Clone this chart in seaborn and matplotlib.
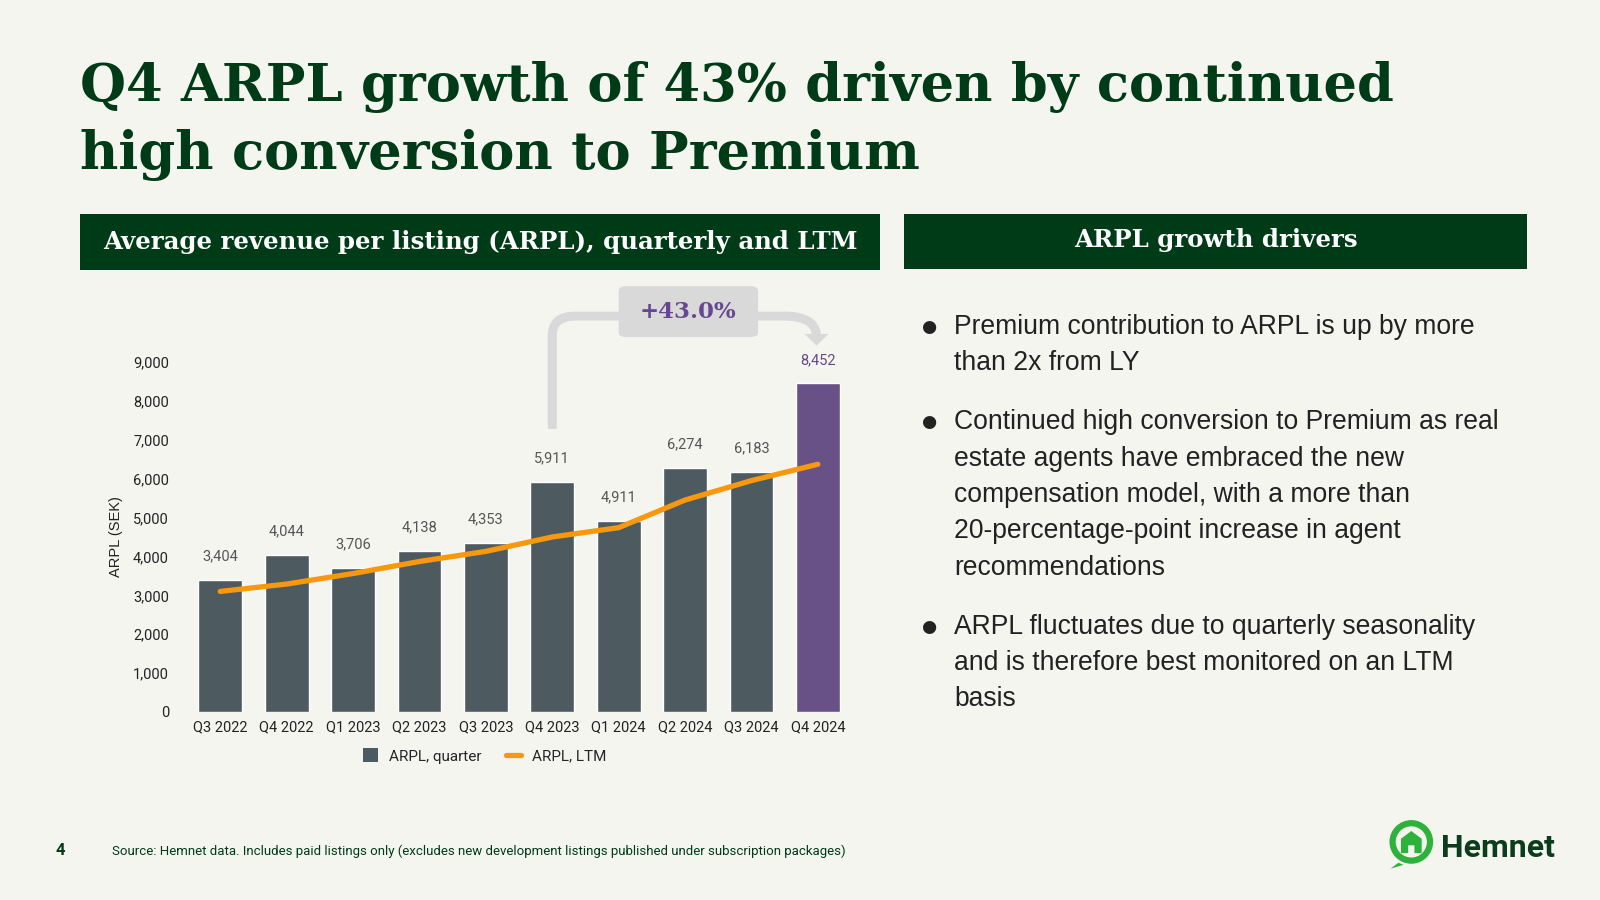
import numpy as np
import pandas as pd
import seaborn as sns
from matplotlib import pyplot as plt
from matplotlib.patches import FancyBboxPatch, Rectangle, Circle, Polygon, PathPatch, Patch
from matplotlib.lines import Line2D
from matplotlib.path import Path

sns.set_theme(style="white")
plt.rcParams["font.family"] = ["Roboto", "DejaVu Sans"]

BG = "#f5f5f0"
DARK_GREEN = "#003b17"
BAR_GREY = "#4a5b63"
PURPLE = "#674890"
ORANGE = "#f7980f"
LABEL_GREY = "#555555"

# data
quarters = ["Q3 2022", "Q4 2022", "Q1 2023", "Q2 2023", "Q3 2023",
            "Q4 2023", "Q1 2024", "Q2 2024", "Q3 2024", "Q4 2024"]
arpl_quarter = [3404, 4044, 3706, 4138, 4353, 5911, 4911, 6274, 6183, 8452]
arpl_ltm = [3100, 3290, 3560, 3870, 4130, 4500, 4740, 5450, 5950, 6370]
growth_label = "+43.0%"

df = pd.DataFrame({"quarter": quarters, "quarter_val": arpl_quarter, "ltm": arpl_ltm})
bar_colors = [BAR_GREY] * (len(quarters) - 1) + [PURPLE]

fig = plt.figure(figsize=(16, 9), dpi=100, facecolor=BG)

# title
fig.text(0.05, 0.888, "Q4 ARPL growth of 43% driven by continued", fontsize=38,
         family="DejaVu Serif", weight="bold", color=DARK_GREEN, va="baseline")
fig.text(0.05, 0.812, "high conversion to Premium", fontsize=38,
         family="DejaVu Serif", weight="bold", color=DARK_GREEN, va="baseline")

# header boxes
fig.patches.append(Rectangle((0.05, 0.700), 0.5, 0.062, transform=fig.transFigure,
                             facecolor=DARK_GREEN, edgecolor="none"))
fig.text(0.30, 0.731, "Average revenue per listing (ARPL), quarterly and LTM", fontsize=17.6,
         family="DejaVu Serif", weight="bold", color="white", ha="center", va="center")
fig.patches.append(Rectangle((0.565, 0.701), 0.3894, 0.061, transform=fig.transFigure,
                             facecolor=DARK_GREEN, edgecolor="none"))
fig.text(0.7597, 0.733, "ARPL growth drivers", fontsize=17.6,
         family="DejaVu Serif", weight="bold", color="white", ha="center", va="center")

# chart
ax = fig.add_axes([0.1169, 0.2089, 0.4150, 0.3889])
ax.set_facecolor(BG)
sns.barplot(data=df, x="quarter", y="quarter_val", hue="quarter", palette=bar_colors,
            width=0.66, legend=False, ax=ax, zorder=2)
sns.lineplot(data=df, x="quarter", y="ltm", color=ORANGE, linewidth=3.8, ax=ax,
             zorder=3, sort=False, solid_capstyle="round")

for i, v in enumerate(arpl_quarter):
    ax.text(i, v + 420, f"{v:,}", ha="center", va="bottom", fontsize=10.5,
            color=PURPLE if i == len(arpl_quarter) - 1 else LABEL_GREY, clip_on=False)

ax.set_ylim(0, 9000)
ax.set_xlim(-0.5, len(quarters) - 0.5)
ax.set_yticks(range(0, 9001, 1000))
ax.set_yticklabels([f"{t:,}" for t in range(0, 9001, 1000)])
ax.tick_params(axis="both", labelsize=10.5, colors="#222222", length=0, pad=6)
ax.tick_params(axis="y", pad=13)
ax.set_xlabel("")
ax.set_ylabel("ARPL (SEK)", fontsize=10.5, color="#222222", labelpad=7,
              family="Liberation Sans")
sns.despine(ax=ax, left=True, bottom=True)

# legend
handles = [Patch(facecolor=BAR_GREY, edgecolor="none"),
           Line2D([0], [0], color=ORANGE, linewidth=3.8)]
ax.legend(handles, ["ARPL, quarter", "ARPL, LTM"], loc="upper center",
          bbox_to_anchor=(0.448, -0.065), ncol=2, frameon=False, fontsize=11,
          handlelength=1.0, handleheight=1.0, columnspacing=1.6, handletextpad=0.7)

# growth connector from Q4 2023 to Q4 2024
x0, x1 = 5, len(quarters) - 1
ytop = 10180
r = 0.35
verts = [(x0, 7280), (x0, ytop - 500), (x0, ytop), (x0 + r, ytop),
         (x1 - 0.5, ytop), (x1 - 0.05, ytop), (x1 - 0.02, 9700)]
codes = [Path.MOVETO, Path.LINETO, Path.CURVE3, Path.CURVE3,
         Path.LINETO, Path.CURVE3, Path.CURVE3]
ax.add_patch(PathPatch(Path(verts, codes), facecolor="none", edgecolor="#d9d9d9",
                       linewidth=6.5, clip_on=False, capstyle="butt", zorder=1))
ax.add_patch(Polygon([(x1 - 0.2, 9720), (x1 + 0.16, 9720), (x1 - 0.02, 9420)],
                     closed=True, facecolor="#d9d9d9", edgecolor="none", clip_on=False))
ax.add_patch(FancyBboxPatch((6.0, 9640), 2.1, 1310,
                            boxstyle="round,pad=0,rounding_size=0.12",
                            mutation_aspect=1000, facecolor="#d9d9d9", edgecolor="none",
                            clip_on=False, zorder=4))
ax.text(7.05, 10290, growth_label, ha="center", va="center", fontsize=16.5,
        family="DejaVu Serif", weight="bold", color=PURPLE, zorder=5, clip_on=False)

# bullets
bullets = [
    ["Premium contribution to ARPL is up by more", "than 2x from LY"],
    ["Continued high conversion to Premium as real", "estate agents have embraced the new",
     "compensation model, with a more than", "20-percentage-point increase in agent",
     "recommendations"],
    ["ARPL fluctuates due to quarterly seasonality", "and is therefore best monitored on an LTM",
     "basis"],
]
y = 900 - 334
line_h = 36.5
for block in bullets:
    fig.text(921 / 1600, (y + 9) / 900, "\u25CF", fontsize=12.5, color="#222222",
             va="center_baseline", ha="left", family="DejaVu Sans")
    for line in block:
        fig.text(954 / 1600, y / 900, line, fontsize=19.1, color="#222222", va="baseline",
                 family="Liberation Sans")
        y -= line_h
    y -= 22

# footer
fig.text(56 / 1600, 1 - 855 / 900, "4", fontsize=12, weight="bold", color=DARK_GREEN)
fig.text(112 / 1600, 1 - 855 / 900,
         "Source: Hemnet data. Includes paid listings only (excludes new development listings published under subscription packages)",
         fontsize=9.5, color=DARK_GREEN)

# logo
logo_ax = fig.add_axes([1384 / 1600, 1 - 870 / 900, 52 / 1600, 52 / 900])
logo_ax.set_xlim(-1, 1)
logo_ax.set_ylim(-1, 1)
logo_ax.set_aspect("equal")
logo_ax.axis("off")
logo_ax.add_patch(Circle((0.05, 0.08), 0.72, facecolor="none", edgecolor="#2eb23c", linewidth=4.5))
logo_ax.add_patch(Polygon([(-0.45, -0.72), (-0.75, -0.95), (-0.25, -0.8)], closed=True,
                          facecolor="#2eb23c", edgecolor="none"))
logo_ax.add_patch(Polygon([(-0.35, -0.35), (-0.35, 0.2), (0.05, 0.5), (0.45, 0.2),
                           (0.45, -0.35), (0.17, -0.35), (0.17, -0.05), (-0.07, -0.05),
                           (-0.07, -0.35)], closed=True, facecolor="#2eb23c", edgecolor="none"))
fig.text(1441 / 1600, 1 - 857 / 900, "Hemnet", fontsize=23, weight="bold", color="#0b3d1c")

fig.savefig("out.png", dpi=100, facecolor=BG)
